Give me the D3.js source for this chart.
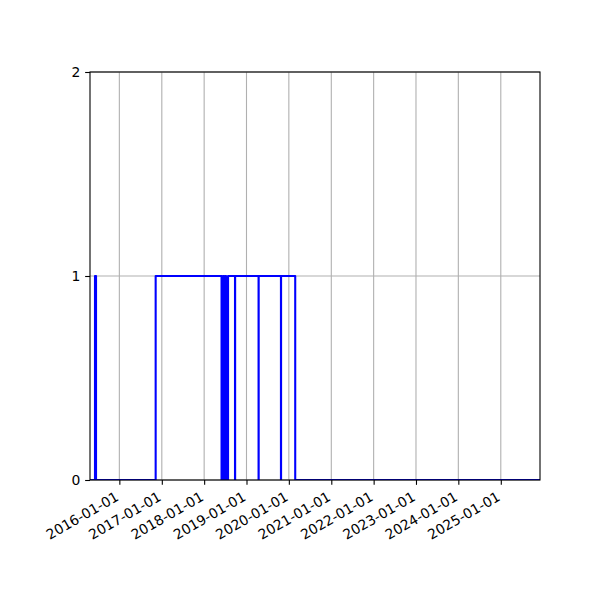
<!DOCTYPE html>
<html>
<head>
<meta charset="utf-8">
<script src="https://cdn.jsdelivr.net/npm/d3@7"></script>
<style>
  body { margin: 0; background: #fff; }
  text { font-family: "DejaVu Sans", sans-serif; font-size: 13.9px; fill: #000; }
</style>
</head>
<body>
<div id="chart"></div>
<script>
// Step data: each value holds from its date until the next date
var dates = ["2015-04-23", "2015-06-05", "2015-06-14", "2016-11-09",
  "2018-05-31", "2018-06-11", "2018-06-22", "2018-06-30", "2018-07-09", "2018-07-26",
  "2018-09-24", "2018-09-25", "2019-04-15", "2019-04-16", "2019-10-25", "2019-10-26",
  "2020-02-25", "2025-12-05"];
var values = [0, 1, 0, 1,
  0, 1, 0, 1, 0, 1,
  0, 1, 0, 1, 0, 1,
  0, 0];

var xTickLabels = ["2016-01-01", "2017-01-01", "2018-01-01", "2019-01-01", "2020-01-01",
  "2021-01-01", "2022-01-01", "2023-01-01", "2024-01-01", "2025-01-01"];
var yTicks = [0, 1, 2];

var svgWidth = 600;
var svgHeight = 600;

var margin = {
  top: 72,
  right: 60,
  bottom: 120,
  left: 90
};

var width = svgWidth - margin.left - margin.right;
var height = svgHeight - margin.top - margin.bottom;

var parseDate = d3.utcParse("%Y-%m-%d");

var data = dates.map(function(d, i) {
  return { date: parseDate(d), value: values[i] };
});

var svg = d3.select("#chart")
  .append("svg")
  .attr("width", svgWidth)
  .attr("height", svgHeight);

var chartGroup = svg.append("g")
  .attr("transform", `translate(${margin.left}, ${margin.top})`);

// Scales
var xScale = d3.scaleUtc()
  .domain([data[0].date, data[data.length - 1].date])
  .range([0, width]);

var yScale = d3.scaleLinear()
  .domain([0, 2])
  .range([height, 0]);

var xTicks = xTickLabels.map(parseDate);

// Grid lines
chartGroup.append("g")
  .selectAll("line")
  .data(xTicks)
  .enter()
  .append("line")
  .attr("x1", d => xScale(d))
  .attr("x2", d => xScale(d))
  .attr("y1", 0)
  .attr("y2", height)
  .attr("stroke", "#b0b0b0")
  .attr("stroke-width", 1.1);

chartGroup.append("g")
  .selectAll("line")
  .data(yTicks)
  .enter()
  .append("line")
  .attr("x1", 0)
  .attr("x2", width)
  .attr("y1", d => yScale(d))
  .attr("y2", d => yScale(d))
  .attr("stroke", "#b0b0b0")
  .attr("stroke-width", 1.1);

// Step line
var stepLine = d3.line()
  .x(d => xScale(d.date))
  .y(d => yScale(d.value))
  .curve(d3.curveStepAfter);

chartGroup.append("defs")
  .append("clipPath")
  .attr("id", "clip")
  .append("rect")
  .attr("width", width)
  .attr("height", height);

chartGroup.append("path")
  .datum(data)
  .attr("clip-path", "url(#clip)")
  .attr("fill", "none")
  .attr("stroke", "#0000ff")
  .attr("stroke-width", 2.08)
  .attr("stroke-linejoin", "round")
  .attr("stroke-linecap", "square")
  .attr("d", stepLine);

// Axes
var bottomAxis = d3.axisBottom(xScale)
  .tickValues(xTicks)
  .tickSize(4.86)
  .tickPadding(4.86)
  .tickFormat(d3.utcFormat("%Y-%m-%d"));

var leftAxis = d3.axisLeft(yScale)
  .tickValues(yTicks)
  .tickSize(4.86)
  .tickPadding(4.86)
  .tickFormat(d3.format("d"));

var xAxisGroup = chartGroup.append("g")
  .attr("transform", `translate(0, ${height})`)
  .call(bottomAxis);

xAxisGroup.select(".domain").remove();
xAxisGroup.selectAll(".tick line").attr("stroke", "#000").attr("stroke-width", 1.1);
// rotated labels, right edge of the rotated box on the tick
xAxisGroup.selectAll(".tick text")
  .attr("y", null)
  .attr("font-size", null)
  .attr("font-family", null)
  .attr("text-anchor", "end")
  .attr("transform", "translate(1.5, 22.3) rotate(-30)")
  .attr("dy", "-3.2");

var yAxisGroup = chartGroup.append("g")
  .call(leftAxis);

yAxisGroup.select(".domain").remove();
yAxisGroup.selectAll(".tick line").attr("stroke", "#000").attr("stroke-width", 1.1);
yAxisGroup.selectAll(".tick text")
  .attr("font-size", null)
  .attr("font-family", null);

// Frame
chartGroup.append("rect")
  .attr("width", width)
  .attr("height", height)
  .attr("fill", "none")
  .attr("stroke", "#000")
  .attr("stroke-width", 1.1);
</script>
</body>
</html>
